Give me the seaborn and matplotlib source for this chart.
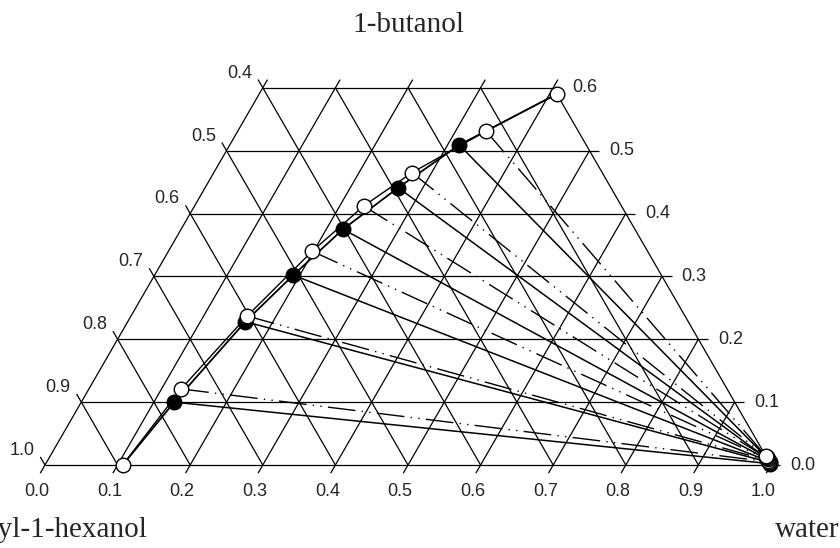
import numpy as np
import pandas as pd
import matplotlib
matplotlib.use("Agg")
import matplotlib.pyplot as plt
import seaborn as sns

# Composiciones en fracción molar: (agua, 1-butanol); 2-etil-1-hexanol = 1 - suma
# Fase orgánica experimental (círculos llenos, líneas continuas)
agua_org_exp = [0.128, 0.162, 0.191, 0.223, 0.266, 0.316]
but_org_exp = [0.100, 0.228, 0.302, 0.375, 0.441, 0.509]
# Fase acuosa experimental
agua_aq_exp = [0.998, 0.996, 0.994, 0.992, 0.990, 0.988]
but_aq_exp = [0.002, 0.004, 0.006, 0.008, 0.010, 0.012]

# Fase orgánica calculada (círculos vacíos, líneas de trazo-punto-punto)
agua_org_cal = [0.127, 0.160, 0.198, 0.233, 0.273, 0.342]
but_org_cal = [0.121, 0.237, 0.340, 0.412, 0.465, 0.531]
# Fase acuosa calculada
agua_aq_cal = [0.995, 0.993, 0.991, 0.989, 0.987, 0.985]
but_aq_cal = [0.005, 0.007, 0.009, 0.011, 0.013, 0.015]

# Extremos de la curva binodal
agua_ext = [0.107, 0.410]
but_ext = [0.000, 0.590]

ticks_agua = [0.0, 0.1, 0.2, 0.3, 0.4, 0.5, 0.6, 0.7, 0.8, 0.9, 1.0]
ticks_hex = [0.4, 0.5, 0.6, 0.7, 0.8, 0.9, 1.0]
ticks_but = [0.0, 0.1, 0.2, 0.3, 0.4, 0.5, 0.6]

S = np.sqrt(3) / 2
B_MAX = 0.6
EXT = 0.013


def cart(agua, but):
    agua = np.asarray(agua, dtype=float)
    but = np.asarray(but, dtype=float)
    return agua + but / 2, but * S


sns.set_theme(style="white")
plt.rcParams['font.family'] = ['Liberation Sans', 'DejaVu Sans']

fig = plt.figure(figsize=(8.4, 5.48), dpi=100)
ax = fig.add_axes([0, 0, 1, 1])
ax.set_xlim(-45 / 726, 795 / 726)
ax.set_ylim(-83 / 726, 465 / 726)
ax.axis('off')

gris = dict(color='black', lw=0.9, solid_capstyle='butt', zorder=1)

# Líneas de agua constante (paralelas al lado izquierdo)
for w in ticks_agua:
    b_fin = min(B_MAX, 1 - w)
    b_fin_ext = b_fin + EXT if b_fin >= B_MAX - 1e-9 else b_fin
    x, y = cart([w, w], [-EXT, b_fin_ext])
    ax.plot(x, y, **gris)

# Líneas de hexanol constante (paralelas al lado derecho)
for h in ticks_agua:
    b_fin = 1 - h
    if b_fin <= B_MAX + 1e-9:
        x, y = cart([1 - h, -EXT], [0, b_fin + EXT])
    else:
        x, y = cart([1 - h, 1 - h - B_MAX], [0, B_MAX])
    ax.plot(x, y, **gris)

# Líneas de butanol constante (horizontales)
for b in ticks_but:
    extra = EXT if b < B_MAX - 1e-9 else 0
    x, y = cart([0, 1 - b + extra], [b, b])
    ax.plot(x, y, **gris)

# Etiquetas de los ejes
for w in ticks_agua:
    x, y = cart(w, 0)
    ax.text(x - 0.011, y - 0.037, f"{w:.1f}", ha='center', va='center', fontsize=13)
for h in ticks_hex:
    x, y = cart(0, 1 - h)
    ax.text(x - 0.0317, y + 0.020, f"{h:.1f}", ha='center', va='center', fontsize=13)
for b in ticks_but:
    x, y = cart(1 - b, b)
    ax.text(x + 0.044, y, f"{b:.1f}", ha='center', va='center', fontsize=13)

serif = ['Liberation Serif', 'DejaVu Serif']
ax.text(0.5, 0.5964, "1-butanol", ha='center', va='baseline', fontsize=21, family=serif)
ax.text(0.1419, -0.0992, "2-ethyl-1-hexanol", ha='right', va='baseline', fontsize=21, family=serif)
ax.text(1.0055, -0.0992, "water", ha='left', va='baseline', fontsize=21, family=serif)

# Curvas binodales
bx, by = cart([agua_ext[0]] + agua_org_exp + [agua_ext[1]], [but_ext[0]] + but_org_exp + [but_ext[1]])
sns.lineplot(x=bx, y=by, sort=False, estimator=None, color='black', lw=1.3, ax=ax, zorder=3)
cx, cy = cart([agua_ext[0]] + agua_org_cal + [agua_ext[1]], [but_ext[0]] + but_org_cal + [but_ext[1]])
sns.lineplot(x=cx, y=cy, sort=False, estimator=None, color='black', lw=1.0, ax=ax, zorder=3)

# Líneas de reparto
guion = (0, (20, 4.5, 1, 4.5, 1, 4.5))
for i in range(len(agua_org_exp)):
    x, y = cart([agua_org_exp[i], agua_aq_exp[i]], [but_org_exp[i], but_aq_exp[i]])
    ax.plot(x, y, color='black', lw=1.1, zorder=2)
for i in range(len(agua_org_cal)):
    x, y = cart([agua_org_cal[i], agua_aq_cal[i]], [but_org_cal[i], but_aq_cal[i]])
    ax.plot(x, y, color='black', lw=1.0, linestyle=guion, zorder=2)

# Marcadores
ex, ey = cart(agua_org_exp + agua_aq_exp, but_org_exp + but_aq_exp)
sns.scatterplot(x=ex, y=ey, s=110, color='black', edgecolor='black', linewidth=1.0, ax=ax, zorder=5)
ox, oy = cart(agua_org_cal + agua_aq_cal + agua_ext, but_org_cal + but_aq_cal + but_ext)
sns.scatterplot(x=ox, y=oy, s=110, color='white', edgecolor='black', linewidth=1.0, ax=ax, zorder=6)

fig.savefig("out.png", dpi=100)
